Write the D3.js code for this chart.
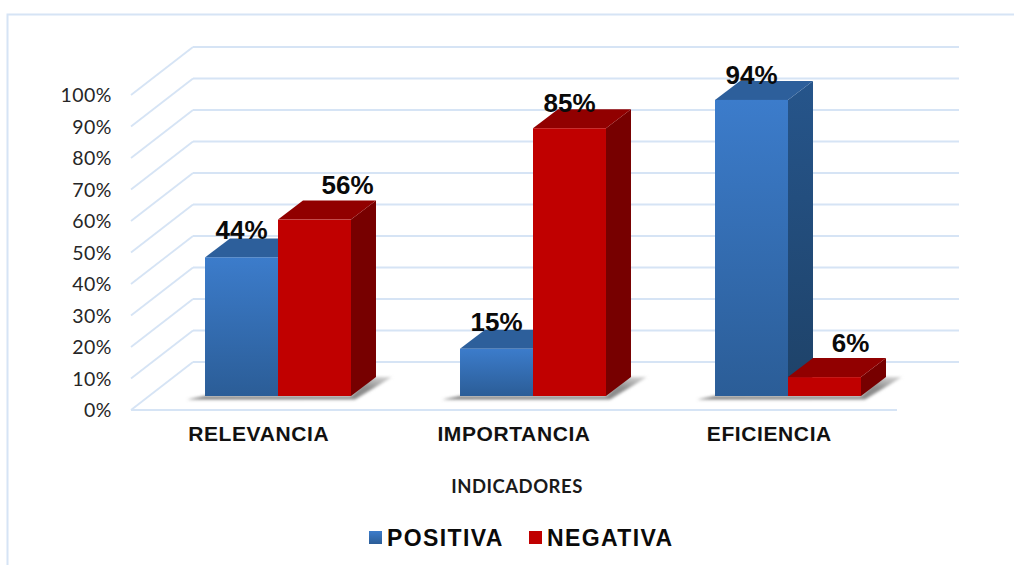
<!DOCTYPE html>
<html>
<head>
<meta charset="utf-8">
<script src="https://cdn.jsdelivr.net/npm/d3@7"></script>
<style>
  html, body { margin: 0; padding: 0; background: #fff; }
  svg { display: block; }
</style>
</head>
<body>
<script>
/* chart values */
var categories = ["RELEVANCIA", "IMPORTANCIA", "EFICIENCIA"];
var seriesNames = ["POSITIVA", "NEGATIVA"];
var positiva = [44, 15, 94];
var negativa = [56, 85, 6];
var tickValues = [0, 10, 20, 30, 40, 50, 60, 70, 80, 90, 100];

var width = 1014, height = 565;

/* projection of the fake 3D box */
var wall = {dx: 62, dy: -48};      // front plane to back wall
var barDepth = {dx: 25, dy: -19};  // depth of one bar

var svg = d3.select("body").append("svg")
    .attr("width", width)
    .attr("height", height);

var defs = svg.append("defs");

function vGradient(id, top, bottom) {
    var g = defs.append("linearGradient").attr("id", id)
        .attr("x1", 0).attr("y1", 0).attr("x2", 0).attr("y2", 1);
    g.append("stop").attr("offset", "0%").attr("stop-color", top);
    g.append("stop").attr("offset", "100%").attr("stop-color", bottom);
}
vGradient("blueFront", "#3c7ccb", "#2b5d97");
vGradient("blueSide", "#26558b", "#1e4268");

defs.append("filter").attr("id", "soft")
    .attr("x", "-10%").attr("y", "-40%").attr("width", "120%").attr("height", "180%")
    .append("feGaussianBlur").attr("stdDeviation", 1.6);

var shade = defs.append("linearGradient").attr("id", "shade")
    .attr("x1", 0).attr("y1", 1).attr("x2", 1).attr("y2", 0);
shade.append("stop").attr("offset", "0%").attr("stop-color", "#7d7d7d");
shade.append("stop").attr("offset", "70%").attr("stop-color", "#8f8f8f");
shade.append("stop").attr("offset", "100%").attr("stop-color", "#d8d8d8");

/* outer frame, only top and left show */
svg.append("path")
    .attr("d", d3.line()([[7.5, height], [7.5, 14.5], [width, 14.5]]))
    .attr("fill", "none")
    .attr("stroke", "#d6e4f5")
    .attr("stroke-width", 2);

/* scales: axis lives on the front plane, bars sit a bit further in */
var yAxisScale = d3.scaleLinear().domain([0, 100]).range([410, 95]);
var yBar = d3.scaleLinear().domain([0, 100]).range([396, 81]);
var xAxisScale = d3.scaleBand().domain(categories).range([131, 897]);
var xGroup = d3.scaleBand().domain(categories).range([150.5, 915.5])
    .paddingInner(0.4275).paddingOuter(0.21375);
var xBar = d3.scaleBand().domain(seriesNames).range([0, xGroup.bandwidth()]);

/* grid on wall and left side */
var gridColor = "#d6e4f5";
var x0 = xAxisScale.range()[0], x1 = xAxisScale.range()[1];
var grid = svg.append("g").attr("fill", "none").attr("stroke", gridColor).attr("stroke-width", 1.8);

grid.selectAll(".back").data(tickValues).enter().append("line")
    .attr("x1", x0 + wall.dx).attr("x2", x1 + wall.dx)
    .attr("y1", function(d) { return yAxisScale(d) + wall.dy; })
    .attr("y2", function(d) { return yAxisScale(d) + wall.dy; });

grid.selectAll(".side").data(tickValues).enter().append("line")
    .attr("x1", x0).attr("x2", x0 + wall.dx)
    .attr("y1", function(d) { return yAxisScale(d); })
    .attr("y2", function(d) { return yAxisScale(d) + wall.dy; });

grid.append("line")
    .attr("x1", x0).attr("x2", x1)
    .attr("y1", yAxisScale(0)).attr("y2", yAxisScale(0));

/* y axis labels */
var yAxis = d3.axisLeft(yAxisScale)
    .tickValues(tickValues)
    .tickSize(0)
    .tickPadding(19)
    .tickFormat(function(d) { return d + "%"; });

var yG = svg.append("g").attr("transform", "translate(" + x0 + ",0)").call(yAxis);
yG.select(".domain").remove();
yG.selectAll("text")
    .attr("font-family", "Lato, sans-serif")
    .attr("font-size", 19.5)
    .attr("letter-spacing", 0.5)
    .attr("dy", "0.34em")
    .attr("fill", "#262626");

/* x axis labels */
var xAxis = d3.axisBottom(xAxisScale).tickSize(0).tickPadding(16);
var xG = svg.append("g").attr("transform", "translate(0," + yAxisScale(0) + ")").call(xAxis);
xG.select(".domain").remove();
xG.selectAll("text")
    .attr("font-family", "'Liberation Sans', Arial, sans-serif")
    .attr("font-weight", "bold")
    .attr("font-size", 21)
    .attr("letter-spacing", 0.6)
    .attr("fill", "#111");

/* shadows under each group */
var floor = yBar(0);
svg.append("g").selectAll("path").data(categories).enter().append("path")
    .attr("filter", "url(#soft)")
    .attr("fill", "url(#shade)")
    .attr("d", function(c) {
        var l = xGroup(c), r = l + xGroup.bandwidth();
        return d3.line()([[l - 18, floor + 3.5], [r + 4, floor + 3.5],
            [r + barDepth.dx + 16, floor + barDepth.dy], [r + barDepth.dx - 6, floor + barDepth.dy],
            [r, floor], [l, floor]]) + "Z";
    });

/* bars */
var colors = {
    POSITIVA: {front: "url(#blueFront)", top: "#2d5f9b", side: "url(#blueSide)"},
    NEGATIVA: {front: "#c00000", top: "#910000", side: "#770000"}
};

/* hand placed value label offsets, same order as the categories */
var labelDx = {POSITIVA: [0, 0, 0], NEGATIVA: [33, 0, 26]};
var labelDy = {POSITIVA: [-18, -18, -16], NEGATIVA: [-26, -16, -25]};

var barData = [];
categories.forEach(function(c, i) {
    barData.push({cat: c, series: "POSITIVA", value: positiva[i], i: i});
    barData.push({cat: c, series: "NEGATIVA", value: negativa[i], i: i});
});

var bars = svg.append("g").selectAll(".bar").data(barData).enter().append("g").attr("class", "bar");

function left(d) { return xGroup(d.cat) + xBar(d.series); }

bars.append("path")  // side
    .attr("fill", function(d) { return colors[d.series].side; })
    .attr("d", function(d) {
        var r = left(d) + xBar.bandwidth(), t = yBar(d.value);
        return d3.line()([[r, t], [r + barDepth.dx, t + barDepth.dy],
            [r + barDepth.dx, floor + barDepth.dy], [r, floor]]) + "Z";
    });

bars.append("path")  // top
    .attr("fill", function(d) { return colors[d.series].top; })
    .attr("d", function(d) {
        var l = left(d), r = l + xBar.bandwidth(), t = yBar(d.value);
        return d3.line()([[l, t], [l + barDepth.dx, t + barDepth.dy],
            [r + barDepth.dx, t + barDepth.dy], [r, t]]) + "Z";
    });

bars.append("rect")  // front
    .attr("fill", function(d) { return colors[d.series].front; })
    .attr("x", left)
    .attr("y", function(d) { return yBar(d.value); })
    .attr("width", xBar.bandwidth())
    .attr("height", function(d) { return floor - yBar(d.value); });

/* value labels */
svg.append("g").selectAll("text").data(barData).enter().append("text")
    .attr("x", function(d) { return left(d) + xBar.bandwidth() / 2 + labelDx[d.series][d.i]; })
    .attr("y", function(d) { return yBar(d.value) + labelDy[d.series][d.i]; })
    .attr("text-anchor", "middle")
    .attr("font-family", "'Liberation Sans', Arial, sans-serif")
    .attr("font-weight", "bold")
    .attr("font-size", 26)
    .attr("fill", "#0a0a0a")
    .text(function(d) { return d.value + "%"; });

/* axis title */
svg.append("text")
    .attr("x", 517).attr("y", 493)
    .attr("text-anchor", "middle")
    .attr("font-family", "Lato, sans-serif")
    .attr("font-weight", "bold")
    .attr("font-size", 18.5)
    .attr("letter-spacing", 0.5)
    .attr("fill", "#1a1a1a")
    .text("INDICADORES");

/* legend */
var legendX = d3.scaleOrdinal().domain(seriesNames).range([369, 529]);
var legend = svg.append("g").selectAll("g").data(seriesNames).enter().append("g")
    .attr("transform", function(d) { return "translate(" + legendX(d) + ",531)"; });

legend.append("rect")
    .attr("width", 13).attr("height", 13)
    .attr("fill", function(d) { return colors[d].front; });

legend.append("text")
    .attr("x", 18).attr("y", 14.5)
    .attr("font-family", "'Liberation Sans', Arial, sans-serif")
    .attr("font-weight", "bold")
    .attr("font-size", 23)
    .attr("letter-spacing", 1.4)
    .attr("fill", "#0a0a0a")
    .text(function(d) { return d; });
</script>
</body>
</html>
